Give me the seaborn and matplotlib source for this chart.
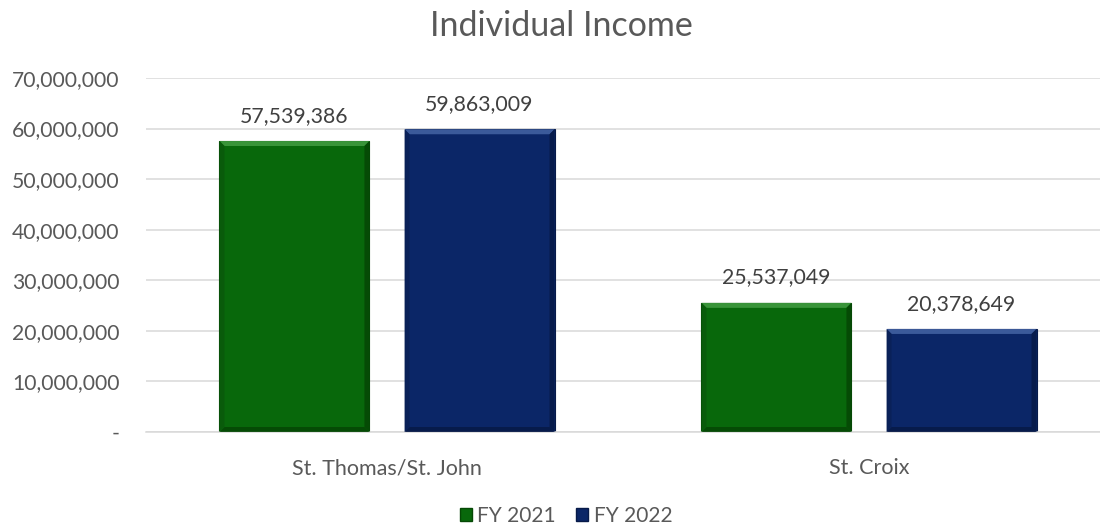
import matplotlib
matplotlib.use("Agg")
import matplotlib.pyplot as plt
from matplotlib.patches import Polygon, Patch
from matplotlib.ticker import FuncFormatter
import seaborn as sns
import pandas as pd

regions = ["St. Thomas/St. John", "St. Croix"]
fiscal_years = ["FY 2021", "FY 2022"]
fy2021_values = [57539386, 25537049]
fy2022_values = [59863009, 20378649]
y_ticks = [0, 10000000, 20000000, 30000000, 40000000, 50000000, 60000000, 70000000]

df = pd.DataFrame({
    "Region": regions * 2,
    "Year": [fiscal_years[0]] * 2 + [fiscal_years[1]] * 2,
    "Income": fy2021_values + fy2022_values,
})

sns.set_theme(style="white")
plt.rcParams["font.family"] = ["Lato", "DejaVu Sans"]

palette = {"FY 2021": "#08680b", "FY 2022": "#0b2667"}
light = {"FY 2021": "#3f9a3f", "FY 2022": "#4160a0"}
side = {"FY 2021": "#0a5a0c", "FY 2022": "#0a2158"}
dark = {"FY 2021": "#054805", "FY 2022": "#071a48"}
text_col = "#595959"

fig = plt.figure(figsize=(11, 5.29), dpi=100)
ax = fig.add_axes([146 / 1100, 97 / 529, 964 / 1100, 354 / 529])

sns.barplot(data=df, x="Region", y="Income", hue="Year", palette=palette,
            width=0.768, gap=0.19, ax=ax, legend=False, saturation=1)

ax.set_ylim(0, 70000000)
ax.set_xlim(-0.5, 1.5)
ax.set_yticks(y_ticks)
ax.yaxis.set_major_formatter(FuncFormatter(lambda v, p: "-" if v == 0 else f"{v:,.0f}"))
ax.grid(axis="y", color="#d9d9d9", linewidth=1.1)
ax.set_axisbelow(True)
for s in ["left", "right", "top"]:
    ax.spines[s].set_visible(False)
ax.spines["bottom"].set_color("#d9d9d9")
ax.spines["bottom"].set_linewidth(1.1)
ax.tick_params(axis="y", length=0, pad=19, labelsize=15.2, labelcolor=text_col)
ax.tick_params(axis="x", length=0, pad=19, labelsize=15.5, labelcolor=text_col)
ax.set_xlabel("")
ax.set_ylabel("")

fig.text(561 / 1100, (529 - 36) / 529, "Individual Income", ha="center", va="baseline",
         fontsize=24.5, color=text_col)

# value labels
for container in ax.containers:
    ax.bar_label(container, labels=[f"{v:,.0f}" for v in container.datavalues],
                 padding=11, fontsize=15.3, color="#404040")

# bevelled bar faces
fig.canvas.draw()
bev = 5
for container, year in zip(ax.containers, fiscal_years):
    for bar in container.patches:
        x0, y0 = ax.transData.transform((bar.get_x(), 0))
        x1, y1 = ax.transData.transform((bar.get_x() + bar.get_width(), bar.get_height()))
        faces = [
            ([(x0, y1), (x1, y1), (x1 - bev, y1 - bev), (x0 + bev, y1 - bev)], light[year]),
            ([(x0, y0), (x1, y0), (x1 - bev, y0 + bev), (x0 + bev, y0 + bev)], dark[year]),
            ([(x0, y0), (x0, y1), (x0 + bev, y1 - bev), (x0 + bev, y0 + bev)], side[year]),
            ([(x1, y0), (x1, y1), (x1 - bev, y1 - bev), (x1 - bev, y0 + bev)], dark[year]),
        ]
        for pts, col in faces:
            fig.patches.append(Polygon(pts, closed=True, facecolor=col, edgecolor="none",
                                       transform=None, figure=fig, alpha=0.9))
        bar.set_edgecolor(dark[year])
        bar.set_linewidth(0.8)

handles = [Patch(facecolor=palette[y], edgecolor=dark[y], label=y) for y in fiscal_years]
fig.legend(handles=handles, loc="lower center", bbox_to_anchor=(566 / 1100, -0.03), ncol=2,
           frameon=False, fontsize=15, labelcolor=text_col, handlelength=0.6,
           handleheight=0.6, handletextpad=0.25, columnspacing=0.95)

fig.savefig("out.png", dpi=100)
